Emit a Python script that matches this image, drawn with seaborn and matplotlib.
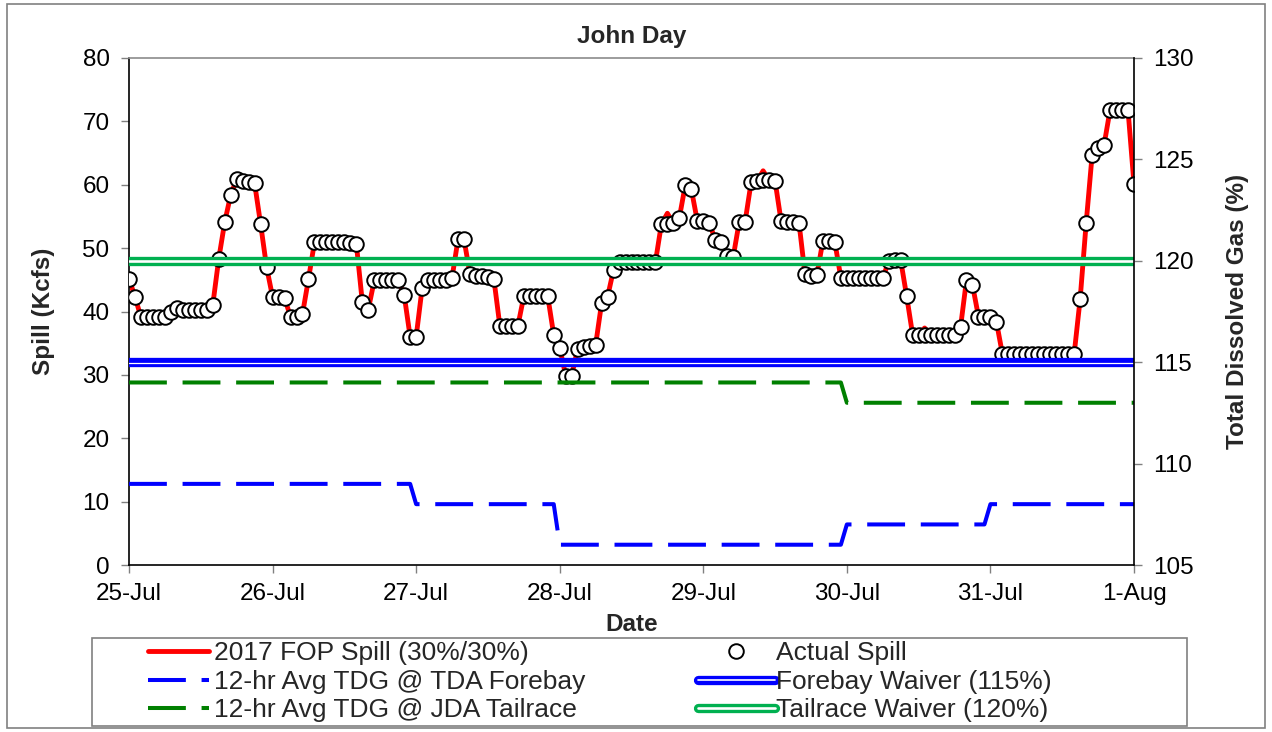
import numpy as np
import pandas as pd
import matplotlib
matplotlib.use("Agg")
import matplotlib.pyplot as plt
import seaborn as sns
from matplotlib.lines import Line2D
from matplotlib.patches import Rectangle
from matplotlib.legend_handler import HandlerTuple

# ---------------- data ----------------
day_labels = ["25-Jul", "26-Jul", "27-Jul", "28-Jul", "29-Jul", "30-Jul", "31-Jul", "1-Aug"]

# hourly actual spill (Kcfs), 25-Jul 00:00 .. 1-Aug 00:00
actual_spill = [
    # 25-Jul
    45.2, 42.3, 39.1, 39.1, 39.1, 39.1, 39.2, 40.0, 40.6, 40.3, 40.3, 40.3,
    40.3, 40.3, 41.0, 48.3, 54.1, 58.4, 60.9, 60.6, 60.4, 60.2, 53.8, 47.0,
    # 26-Jul
    42.3, 42.3, 42.1, 39.2, 39.2, 39.6, 45.1, 50.9, 50.9, 50.9, 50.9, 50.9,
    50.9, 50.8, 50.7, 41.5, 40.3, 44.9, 44.9, 44.9, 44.9, 44.9, 42.6, 36.0,
    # 27-Jul
    36.0, 43.7, 44.9, 44.9, 44.9, 44.9, 45.3, 51.4, 51.4, 45.9, 45.6, 45.6,
    45.4, 45.1, 37.7, 37.7, 37.7, 37.7, 42.4, 42.4, 42.4, 42.4, 42.4, 36.3,
    # 28-Jul
    34.3, 29.9, 29.9, 34.1, 34.4, 34.6, 34.7, 41.3, 42.3, 46.6, 47.8, 47.8,
    47.8, 47.8, 47.8, 47.8, 47.8, 53.8, 53.8, 53.9, 54.8, 60.0, 59.3, 54.3,
    # 29-Jul
    54.3, 54.0, 51.3, 50.9, 48.7, 48.6, 54.1, 54.2, 60.4, 60.6, 60.7, 60.7,
    60.6, 54.3, 54.2, 54.2, 54.0, 45.9, 45.6, 45.8, 51.2, 51.1, 50.9, 45.3,
    # 30-Jul
    45.3, 45.3, 45.3, 45.3, 45.3, 45.3, 45.3, 47.9, 48.1, 48.1, 42.4, 36.3,
    36.3, 36.3, 36.3, 36.3, 36.3, 36.3, 36.3, 37.5, 45.0, 44.2, 39.2, 39.2,
    # 31-Jul
    39.2, 38.4, 33.3, 33.3, 33.3, 33.3, 33.3, 33.3, 33.3, 33.3, 33.3, 33.3,
    33.3, 33.3, 33.3, 42.0, 53.9, 64.7, 65.8, 66.3, 71.8, 71.8, 71.8, 71.8,
    # 1-Aug
    60.1,
]

# hourly 2017 FOP spill (Kcfs)
fop_spill = [
    45.2, 42.3, 39.1, 39.1, 39.1, 39.1, 39.2, 40.0, 40.6, 40.3, 40.3, 40.3,
    40.3, 40.3, 41.0, 48.3, 54.1, 58.4, 60.9, 60.6, 60.4, 60.2, 53.8, 47.0,
    42.3, 42.3, 42.1, 39.2, 39.2, 39.6, 45.1, 50.9, 50.9, 50.9, 50.9, 50.9,
    50.9, 50.8, 50.7, 41.5, 40.3, 44.9, 44.9, 44.9, 44.9, 44.9, 42.6, 36.0,
    36.0, 43.7, 44.9, 44.9, 44.9, 44.9, 45.3, 51.4, 51.4, 45.9, 45.6, 45.6,
    45.4, 45.1, 37.7, 37.7, 37.7, 37.7, 42.4, 42.4, 42.4, 42.4, 42.4, 36.3,
    34.3, 29.9, 29.9, 34.1, 34.4, 34.6, 34.7, 41.3, 42.3, 46.6, 48.2, 48.0,
    47.8, 47.8, 47.8, 47.8, 47.8, 53.8, 55.5, 53.9, 54.8, 60.0, 59.3, 54.3,
    54.3, 54.0, 51.3, 50.9, 48.7, 48.6, 54.1, 54.2, 60.4, 60.6, 62.2, 60.7,
    60.6, 54.3, 54.2, 54.2, 54.0, 45.9, 45.6, 45.8, 51.2, 51.1, 50.9, 45.3,
    45.3, 45.3, 45.3, 45.3, 45.3, 45.3, 45.3, 47.9, 48.1, 48.1, 42.4, 36.3,
    36.3, 37.4, 36.3, 36.3, 36.3, 36.3, 36.3, 37.5, 45.0, 44.2, 39.2, 39.2,
    39.2, 38.4, 33.3, 33.3, 33.3, 33.3, 33.3, 33.3, 33.3, 33.3, 33.3, 33.3,
    33.3, 33.3, 33.3, 42.0, 53.9, 64.7, 65.8, 66.3, 71.8, 71.8, 71.8, 71.8,
    60.1,
]

# 12-hr avg TDG (%) step series: hour since 25-Jul 00:00, value
forebay_hour = [0, 47, 48, 71, 72, 119, 120, 143, 144, 168]
forebay_tdg = [109, 109, 108, 108, 106, 106, 107, 107, 108, 108]
tailrace_hour = [0, 119, 120, 168]
tailrace_tdg = [114, 114, 113, 113]

forebay_waiver = 115
tailrace_waiver = 120

labels = ["2017 FOP Spill (30%/30%)", "12-hr Avg TDG @ TDA Forebay",
          "12-hr Avg TDG @ JDA Tailrace", "Actual Spill",
          "Forebay Waiver (115%)", "Tailrace Waiver (120%)"]

# ---------------- style ----------------
sns.set_theme(style="ticks")
plt.rcParams['font.family'] = ['Liberation Sans', 'DejaVu Sans']

W, H = 1272, 732
fig = plt.figure(figsize=(W / 100, H / 100), dpi=100)
fig.patch.set_facecolor("white")
L, R, T, B = 129, 1134, 58, 565
ax = fig.add_axes([L / W, 1 - B / H, (R - L) / W, (B - T) / H])
ax2 = ax.twinx()

RED = "#ff0000"
BLUE = "#0000ff"
DGREEN = "#008000"
LGREEN = "#00b050"

df = pd.DataFrame({
    "day": np.arange(len(actual_spill)) / 24.0,
    "actual": actual_spill,
    "fop": fop_spill,
})

sns.lineplot(data=df, x="day", y="fop", ax=ax, color=RED, lw=3.5,
             legend=False, zorder=2)
sns.scatterplot(data=df, x="day", y="actual", ax=ax, s=110, color="white",
                edgecolor="black", linewidth=1.4, legend=False, zorder=3)

dash = (0, (9.4, 3.9))
fb = pd.DataFrame({"day": np.array(forebay_hour) / 24.0, "tdg": forebay_tdg})
tr = pd.DataFrame({"day": np.array(tailrace_hour) / 24.0, "tdg": tailrace_tdg})
sns.lineplot(data=fb, x="day", y="tdg", ax=ax2, color=BLUE, lw=2.9,
             legend=False, sort=False)
ax2.lines[-1].set_linestyle(dash)
sns.lineplot(data=tr, x="day", y="tdg", ax=ax2, color=DGREEN, lw=2.9,
             legend=False, sort=False)
ax2.lines[-1].set_linestyle(dash)

# waiver lines (compound lines)
ax2.axhline(forebay_waiver, color=BLUE, lw=6.7)
ax2.axhline(forebay_waiver - 0.05, color="white", lw=0.9)
ax2.axhline(tailrace_waiver, color=LGREEN, lw=6.7)
ax2.axhline(tailrace_waiver, color="white", lw=1.9)

# axes
ax.set_xlim(0, 7)
ax.set_ylim(0, 80)
ax.set_xticks(range(len(day_labels)))
ax.set_xticklabels(day_labels)
ax.set_yticks(range(0, 81, 10))
ax2.set_ylim(105, 130)
ax2.set_yticks(range(105, 131, 5))

for a in (ax, ax2):
    a.tick_params(axis="both", labelsize=17.5, length=6, width=1,
                  color="#808080", labelcolor="black", pad=8)
    a.grid(False)
ax.tick_params(axis="x", pad=7)

ax.spines["left"].set_color("black")
ax.spines["bottom"].set_color("black")
ax.spines["top"].set_visible(True)
ax.spines["top"].set_color("#909090")
ax.spines["right"].set_visible(False)
ax2.spines["right"].set_color("black")
ax2.spines["top"].set_visible(False)
ax2.spines["left"].set_visible(False)
ax2.spines["bottom"].set_visible(False)
for s in ("left", "bottom"):
    ax.spines[s].set_linewidth(1.2)
ax2.spines["right"].set_linewidth(1.2)

ax.set_xlabel("Date", fontsize=17.5, fontweight="bold", labelpad=6)
ax.set_ylabel("Spill (Kcfs)", fontsize=17.5, fontweight="bold", labelpad=20)
ax2.set_ylabel("Total Dissolved Gas (%)", fontsize=17.5, fontweight="bold", labelpad=23)
ax.set_title("John Day", fontsize=17.5, fontweight="bold", pad=11)

# outer border and legend frame
fig.patches.append(Rectangle((7 / W, 1 - 728 / H), (1265 - 7) / W, (728 - 4) / H,
                             transform=fig.transFigure, fill=False,
                             edgecolor="#808080", lw=1.2))
fig.patches.append(Rectangle((92 / W, 1 - 726 / H), (1187 - 92) / W, (726 - 638) / H,
                             transform=fig.transFigure, fill=False,
                             edgecolor="#808080", lw=1.2))

# legend handles
h_fop = Line2D([], [], color=RED, lw=3.5)
h_fb = Line2D([], [], color=BLUE, lw=2.9, linestyle=dash)
h_tr = Line2D([], [], color=DGREEN, lw=2.9, linestyle=dash)
h_act = Line2D([], [], ls="none", marker="o", markersize=10.5, markerfacecolor="white",
               markeredgecolor="black", markeredgewidth=1.4)
h_fw = (Line2D([], [], color=BLUE, lw=6.7), Line2D([], [], color="white", lw=1.2))
h_tw = (Line2D([], [], color=LGREEN, lw=6.7), Line2D([], [], color="white", lw=1.9))

leg_kw = dict(frameon=False, fontsize=19, labelspacing=0.18, borderpad=0,
              borderaxespad=0, handler_map={tuple: HandlerTuple(ndivide=1)})
fig.legend([h_fop, h_fb, h_tr], labels[:3], loc="upper left",
           bbox_to_anchor=(148 / W, 1 - 641 / H), handlelength=2.3,
           handletextpad=0.2, **leg_kw)
fig.legend([h_act, h_fw, h_tw], labels[3:], loc="upper left",
           bbox_to_anchor=(698 / W, 1 - 641 / H), handlelength=2.9,
           handletextpad=0.05, **leg_kw)

fig.savefig("out.png", dpi=100, facecolor="white")
